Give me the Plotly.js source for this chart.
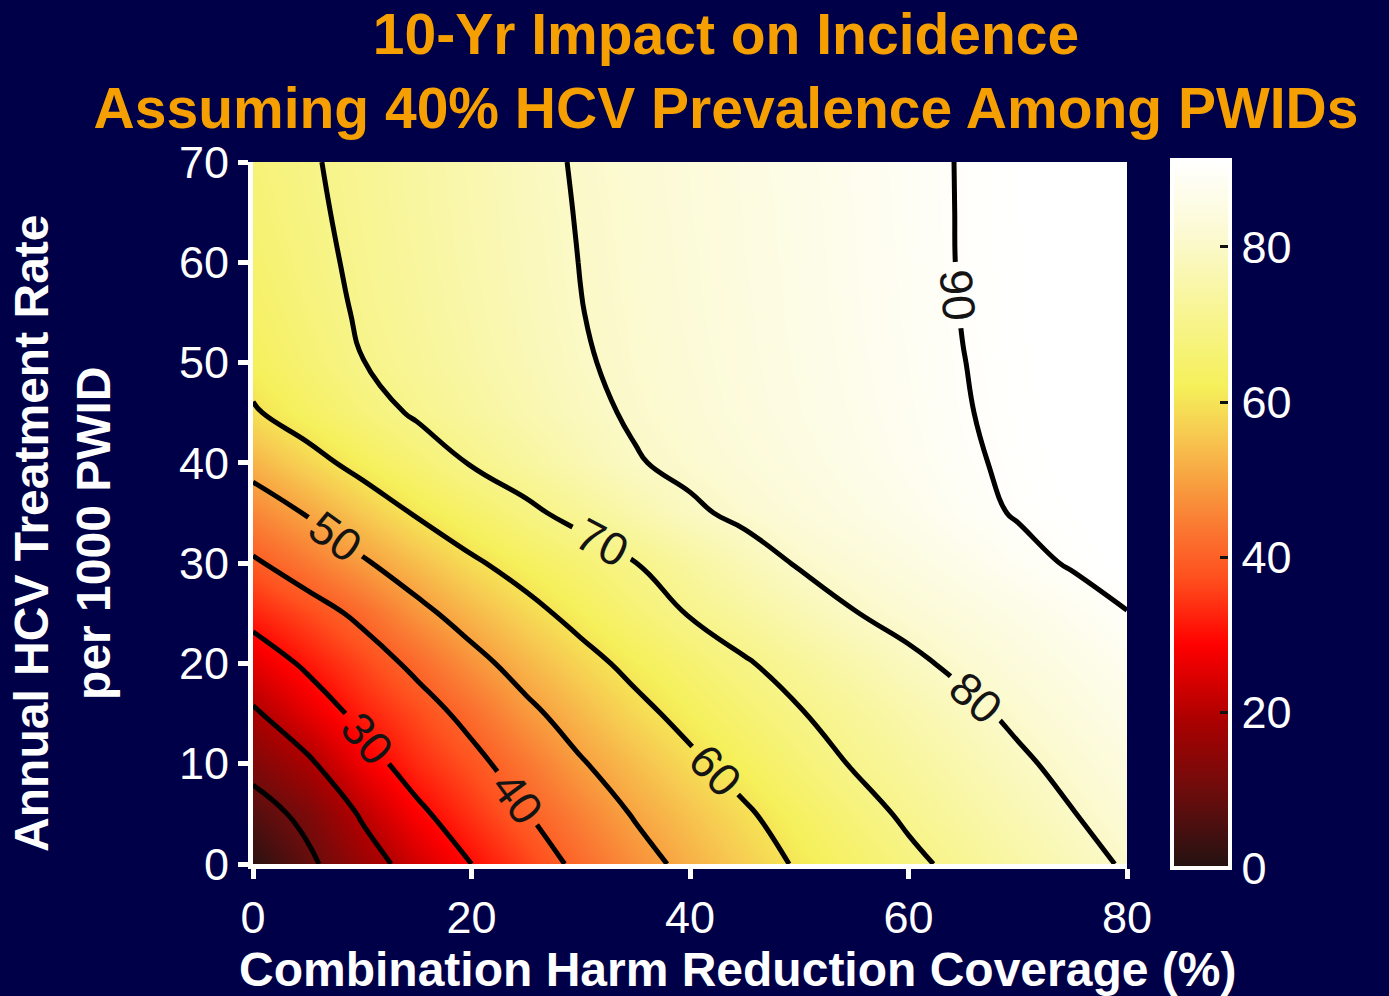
<!DOCTYPE html>
<html>
<head>
<meta charset="utf-8">
<script src="https://cdn.plot.ly/plotly-3.0.1.min.js"></script>
<style>
html,body{margin:0;padding:0;background:#000048;}
#chart{width:1389px;height:996px;}
</style>
</head>
<body>
<div id="chart"></div>
<script>
// Combination harm reduction coverage (%) - x grid
const harmReductionCoverage = [0,5,10,15,20,25,30,35,40,45,50,55,60,65,70,75,80];
// Annual HCV treatment rate per 1000 PWID - y grid
const treatmentRate = [0,5,10,15,20,25,30,35,40,45,50,55,60,65,70];

// 10-yr impact on incidence (%), one row per treatment rate
const impactRate0  = [1, 8.4, 16.2, 23.4, 30, 35.7, 41.8, 47.1, 52.1, 56.5, 60.8, 64.7, 68.5, 71.8, 74.7, 77.6, 80.7];
const impactRate5  = [6.5, 12.1, 20.9, 28.5, 34.3, 39.7, 45.2, 50.6, 54.9, 59.1, 63.3, 67.4, 71.1, 74, 76.9, 79.8, 82.5];
const impactRate10 = [12.6, 18.7, 27, 33.2, 38, 43.5, 49.4, 54.1, 58.6, 62.7, 66.7, 70.5, 73.3, 76.1, 79, 81.7, 84.3];
const impactRate15 = [18.9, 25.7, 31.9, 36.8, 42.1, 48.3, 53.4, 58.1, 62.2, 65.9, 69.6, 72.6, 75.6, 78.5, 81.2, 83.7, 86.2];
const impactRate20 = [25.7, 31.2, 36.3, 41.6, 47.7, 53, 57.7, 61.9, 65.7, 69.4, 72.6, 75.7, 78.8, 81.3, 83.6, 85.8, 88];
const impactRate25 = [32.5, 36.8, 41.6, 48, 53.2, 57.9, 62.2, 66.4, 70.4, 73.5, 76.6, 79.8, 81.9, 83.9, 85.9, 87.9, 89.9];
const impactRate30 = [39, 43.9, 49.1, 54.1, 59, 62.8, 66.3, 69.9, 73.6, 77.3, 80.5, 82.6, 84.6, 86.7, 88.7, 90.4, 91.5];
const impactRate35 = [45.8, 50.5, 55.7, 60.6, 64.6, 68.6, 72.2, 75.6, 79, 81.3, 83.2, 85, 86.9, 88.8, 90.3, 91.1, 92];
const impactRate40 = [52.6, 57.6, 62.2, 66.3, 70.4, 73.4, 76.5, 79.6, 81.4, 83, 84.6, 86.3, 87.9, 89.5, 90.6, 91.5, 92.3];
const impactRate45 = [59.3, 63.4, 67.3, 70.8, 73.4, 76, 78.6, 80.7, 82.2, 83.8, 85.3, 86.8, 88.3, 89.8, 90.8, 91.6, 92.5];
const impactRate50 = [62.5, 66.2, 69.9, 72.3, 74.7, 77.1, 79.5, 81.2, 82.6, 84.1, 85.6, 87.1, 88.5, 89.95, 90.9, 91.7, 92.6];
const impactRate55 = [64, 67.5, 70.7, 73, 75.3, 77.6, 79.9, 81.4, 82.9, 84.3, 85.8, 87.3, 88.7, 90.1, 91, 91.8, 92.7];
const impactRate60 = [65.2, 68.4, 71.1, 73.4, 75.7, 78, 80.1, 81.6, 83, 84.5, 85.9, 87.4, 88.8, 90.2, 91, 91.9, 92.8];
const impactRate65 = [66.2, 69, 71.4, 73.7, 76, 78.2, 80.3, 81.7, 83.2, 84.6, 86, 87.5, 88.9, 90.2, 91.1, 92, 92.9];
const impactRate70 = [67, 69.4, 71.7, 73.9, 76.2, 78.5, 80.5, 81.9, 83.3, 84.7, 86.2, 87.6, 89, 90.2, 91.1, 92, 93];

const xTickValues = [0, 20, 40, 60, 80];
const yTickValues = [0, 10, 20, 30, 40, 50, 60, 70];
const colorTickValues = [0, 20, 40, 60, 80];

const incidenceImpact = [impactRate0, impactRate5, impactRate10, impactRate15, impactRate20,
  impactRate25, impactRate30, impactRate35, impactRate40, impactRate45, impactRate50,
  impactRate55, impactRate60, impactRate65, impactRate70];

const FONT = 'Liberation Sans, Arial, Helvetica, sans-serif';
const BG = '#000048';
const Z_MAX = 91.2;

const heatScale = [
  [0.00, 'rgb(35,18,18)'],
  [0.11, 'rgb(110,12,12)'],
  [0.21, 'rgb(172,0,0)'],
  [0.315, 'rgb(255,0,0)'],
  [0.41, 'rgb(255,80,30)'],
  [0.48, 'rgb(250,120,50)'],
  [0.545, 'rgb(248,160,64)'],
  [0.61, 'rgb(247,200,80)'],
  [0.68, 'rgb(245,240,90)'],
  [0.79, 'rgb(248,245,150)'],
  [0.90, 'rgb(252,250,212)'],
  [1.00, 'rgb(255,255,255)']
];

// plot area in pixels: x 253..1127, y 162..864
const heatTrace = {
  type: 'heatmap',
  x: harmReductionCoverage,
  y: treatmentRate,
  z: incidenceImpact,
  zsmooth: 'best',
  zauto: false,
  zmin: 0,
  zmax: Z_MAX,
  colorscale: heatScale,
  hoverinfo: 'skip',
  colorbar: {
    xref: 'paper', x: (1172 - 253) / 874, xanchor: 'left',
    yref: 'paper', y: (864 - 868) / 702, yanchor: 'bottom',
    len: 708, lenmode: 'pixels',
    thickness: 58, thicknessmode: 'pixels',
    xpad: 0, ypad: 0,
    outlinecolor: 'white', outlinewidth: 4,
    borderwidth: 0,
    tickvals: colorTickValues,
    ticks: 'inside', ticklen: 12, tickwidth: 3, tickcolor: '#111111',
    tickfont: {family: FONT, size: 45, color: 'white'}
  }
};

const contourTrace = {
  type: 'contour',
  x: harmReductionCoverage,
  y: treatmentRate,
  z: incidenceImpact,
  showscale: false,
  autocontour: false,
  contours: {
    start: 10, end: 90, size: 10,
    coloring: 'none',
    showlabels: true,
    labelfont: {family: FONT, size: 46, color: '#141414'}
  },
  line: {color: '#000000', width: 5, smoothing: 1.3},
  hoverinfo: 'skip'
};

const axisCommon = {
  ticks: 'outside', ticklen: 10, tickwidth: 5, tickcolor: 'white',
  showline: true, linecolor: 'white', linewidth: 5,
  showgrid: false, zeroline: false, fixedrange: true,
  tickfont: {family: FONT, size: 45, color: 'white'}
};

const layout = {
  width: 1389, height: 996,
  paper_bgcolor: BG, plot_bgcolor: BG,
  margin: {l: 253, r: 262, t: 162, b: 132},
  title: {
    text: '10-Yr Impact on Incidence<br>Assuming 40% HCV Prevalence Among PWIDs',
    font: {family: FONT, size: 57, color: '#f5a000', weight: 'bold'},
    xref: 'container', x: 0.5227, xanchor: 'center',
    yref: 'container', y: 0.946, yanchor: 'top'
  },
  xaxis: Object.assign({}, axisCommon, {range: [0, 80], tickvals: xTickValues}),
  yaxis: Object.assign({}, axisCommon, {range: [0, 70], tickvals: yTickValues}),
  annotations: [
    {
      text: 'Combination Harm Reduction Coverage (%)',
      xref: 'paper', yref: 'paper', x: 0.5543, y: -0.150,
      xanchor: 'center', yanchor: 'middle', showarrow: false,
      font: {family: FONT, size: 48, color: 'white', weight: 'bold'}
    },
    {
      text: 'Annual HCV Treatment Rate<br>per 1000 PWID',
      xref: 'paper', yref: 'paper', x: -0.2174, y: 0.4716,
      xanchor: 'center', yanchor: 'middle', showarrow: false, textangle: -90,
      font: {family: FONT, size: 48, color: 'white', weight: 'bold'}
    }
  ]
};

Plotly.newPlot('chart', [heatTrace, contourTrace], layout, {displayModeBar: false, staticPlot: true});
</script>
</body>
</html>
